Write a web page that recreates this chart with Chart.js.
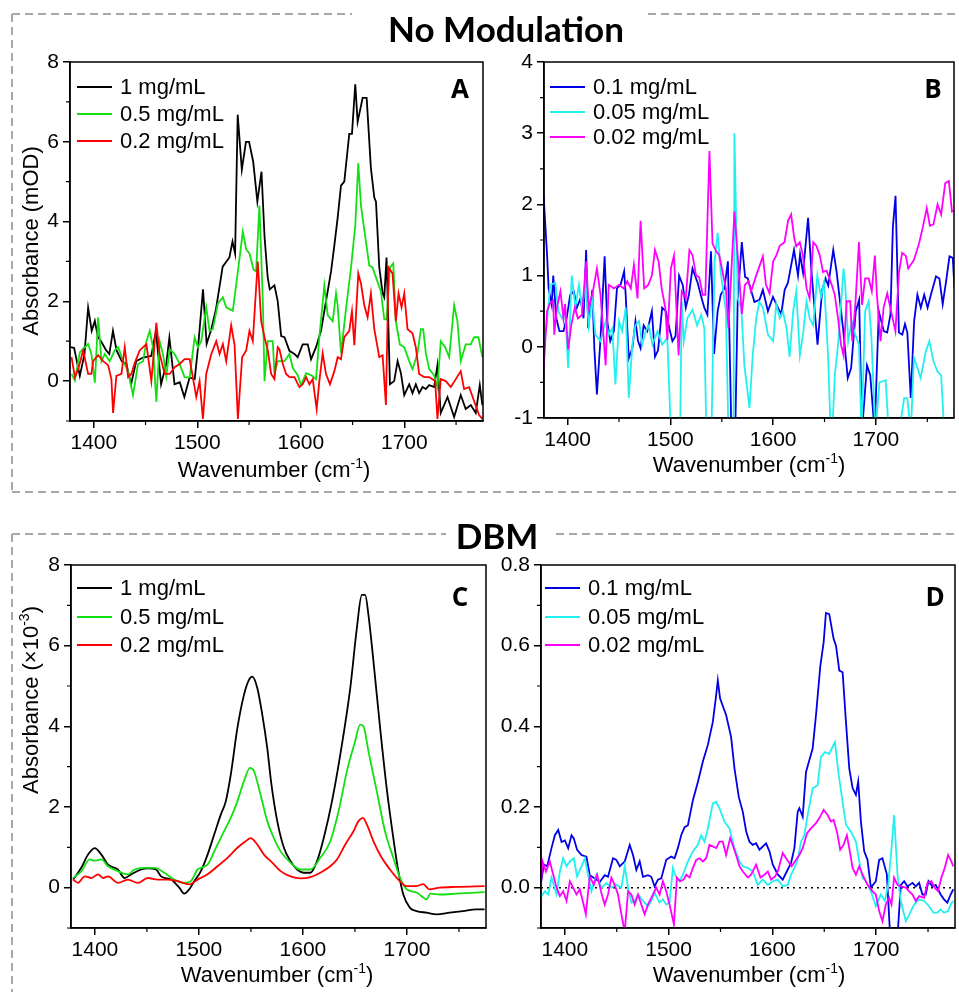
<!DOCTYPE html>
<html><head><meta charset="utf-8">
<script src="https://cdn.jsdelivr.net/npm/chart.js@4/dist/chart.umd.min.js"></script>
<style>
body{margin:0;background:#fff;}
#page{position:relative;width:959px;height:992px;overflow:hidden;background:#fff;font-family:'Liberation Sans',Arial,sans-serif;color:#000;}
canvas{position:absolute;}
.t{position:absolute;white-space:nowrap;transform:translate(-50%,-50%);line-height:1;}
.ttl{font-family:Lato,'Open Sans',sans-serif;font-weight:700;font-size:35px;}
.let{font-family:'Open Sans',sans-serif;font-weight:700;font-size:26px;}
.ax{font-size:22px;}
.ax sup{font-size:14px;vertical-align:top;position:relative;top:-3px;}
.rot{transform:translate(-50%,-50%) rotate(-90deg);}
.lg{position:absolute;transform:translateY(-50%);font-size:22px;line-height:24px;white-space:nowrap;display:flex;align-items:center;}
.sw{display:inline-block;width:35px;height:2px;margin-right:8px;}
</style></head><body><div id="page">
<svg width="959" height="992" style="position:absolute;left:0;top:0" stroke="#a8a8a8" stroke-width="2" stroke-dasharray="8 5" fill="none">
<line x1="12" y1="14" x2="352" y2="14"/><line x1="648" y1="14" x2="959" y2="14"/>
<line x1="12" y1="14" x2="12" y2="492"/><line x1="12" y1="492" x2="959" y2="492"/>
<line x1="12" y1="534" x2="446" y2="534"/><line x1="556" y1="534" x2="959" y2="534"/>
<line x1="12" y1="534" x2="12" y2="992"/>
</svg>
<canvas id="cA" width="480" height="435" style="left:20px;top:45px"></canvas>
<canvas id="cB" width="459" height="435" style="left:500px;top:45px"></canvas>
<canvas id="cC" width="480" height="432" style="left:20px;top:548px"></canvas>
<canvas id="cD" width="459" height="432" style="left:500px;top:548px"></canvas>
<div class="t ttl" style="left:506px;top:28px">No Modulation</div>
<div class="t ttl" style="left:497px;top:535px">DBM</div>
<div class="t let" style="left:460px;top:88px">A</div>
<div class="t let" style="left:933px;top:88px">B</div>
<div class="t let" style="left:460px;top:596px">C</div>
<div class="t let" style="left:935px;top:596px">D</div>
<div class="t ax rot" style="left:31px;top:241px">Absorbance (mOD)</div>
<div class="t ax rot" style="left:31px;top:700px">Absorbance (×10<sup>-3</sup>)</div>
<div class="t ax" style="left:274px;top:470px">Wavenumber (cm<sup>-1</sup>)</div>
<div class="t ax" style="left:749px;top:465px">Wavenumber (cm<sup>-1</sup>)</div>
<div class="t ax" style="left:277px;top:975px">Wavenumber (cm<sup>-1</sup>)</div>
<div class="t ax" style="left:749px;top:975px">Wavenumber (cm<sup>-1</sup>)</div>
</div>
<script>
// ---------- DATA: [wavenumber (cm-1), absorbance] ----------
const xTicksMajor = [1400, 1500, 1600, 1700];
const xTicksMinor = [1450, 1550, 1650, 1750];

// Panel A (No Modulation, mOD)
const a_1 = [[1378,0.85],[1381,0.83],[1386.5,0.13],[1391,0.68],[1394.5,1.84],[1398,1.26],[1401,1.51],[1404,1.1],[1407,1.0],[1412,0.77],[1415,0.68],[1418.5,1.26],[1422,0.77],[1427,0.5],[1431.5,0.43],[1436,-0.08],[1441,0.5],[1447.5,0.59],[1455.5,0.63],[1460,1.26],[1465,-0.08],[1470,0.43],[1473,1.09],[1478,-0.08],[1483,-0.03],[1487.5,-0.4],[1492.5,0.09],[1497.5,0.05],[1501,0.93],[1505.5,2.3],[1509,0.93],[1513.5,1.3],[1518,1.8],[1524.5,2.87],[1531,3.1],[1534,3.5],[1536.5,3.2],[1539,6.68],[1543,5.3],[1547,6.0],[1550,6.0],[1554,5.5],[1558,4.5],[1562,5.25],[1565,3.6],[1568,2.6],[1570,2.3],[1574.5,2.4],[1577.7,2.0],[1581,1.13],[1584.2,1.1],[1589,0.76],[1593.8,0.68],[1597,0.6],[1601.8,0.92],[1606.7,0.92],[1609.9,0.55],[1614.7,0.85],[1619.5,1.26],[1624.3,2.0],[1629.2,2.75],[1632.4,3.4],[1635.6,4.1],[1638.8,4.9],[1642,5.0],[1646.8,6.2],[1649.4,6.2],[1652.6,7.44],[1654.9,6.5],[1659.7,7.1],[1663.6,7.1],[1667.7,5.34],[1671,4.6],[1672.6,4.5],[1675.8,2.85],[1679,2.2],[1680.6,2.1],[1682.8,3.1],[1684.8,1.2],[1686.1,-0.08],[1690.2,0.0],[1693.5,0.5],[1696.7,0.2],[1699.9,-0.35],[1704.7,-0.08],[1707.9,-0.3],[1711.1,-0.08],[1714.3,-0.3],[1717.6,-0.15],[1720.8,-0.2],[1724,-0.1],[1728.8,-0.15],[1732,0.4],[1735.2,-0.8],[1741.7,-0.4],[1748.1,-0.9],[1754.5,-0.35],[1759.3,-0.7],[1764.2,-0.6],[1769,-0.8],[1772.9,-0.1],[1775.4,-0.6]];
const a_05 = [[1378.5,0.18],[1381.7,0.01],[1386.5,0.72],[1394.5,0.93],[1397.7,0.68],[1401,-0.04],[1404.2,1.6],[1407.4,0.5],[1410.6,0.68],[1415.4,0.5],[1420.2,0.77],[1423.5,0.85],[1428.3,0.5],[1433.1,0.25],[1437.9,-0.35],[1442.7,0.43],[1447.6,0.5],[1450.8,1.0],[1454,1.26],[1457.2,0.85],[1460.4,-0.52],[1463.6,1.0],[1466.8,0.68],[1470,0.13],[1473.3,0.8],[1478.1,0.68],[1482.9,0.43],[1487.7,0.1],[1492.6,0.09],[1497.4,1.1],[1500.6,0.85],[1503.8,1.0],[1508.6,1.85],[1511.8,1.26],[1515,1.3],[1519.9,1.95],[1524.7,2.1],[1527.9,1.85],[1534.3,1.76],[1539.2,2.75],[1544,3.75],[1547.2,3.3],[1550.4,3.2],[1554.3,2.8],[1556.8,2.75],[1560,4.4],[1563.3,2.0],[1564.9,0.0],[1568.1,1.0],[1572.9,1.0],[1574.5,0.2],[1577.7,0.5],[1584.2,0.5],[1589,0.68],[1592.2,0.33],[1597,0.15],[1600.2,-0.1],[1605.1,0.2],[1609.9,0.15],[1614.7,0.05],[1617.9,1.1],[1622.7,2.4],[1626,1.65],[1630.8,1.5],[1634,2.2],[1635.6,1.9],[1638.8,0.7],[1643.6,1.8],[1648.5,2.85],[1652.6,3.9],[1655.5,5.46],[1658.1,4.4],[1661.3,3.8],[1666.1,2.9],[1669.3,2.85],[1672.6,2.6],[1677.4,2.25],[1680.6,1.55],[1682.8,1.55],[1686.1,2.85],[1689.3,2.95],[1691.8,1.5],[1695.7,0.92],[1699.9,0.85],[1704.7,0.5],[1707.9,0.3],[1712.7,0.7],[1716,1.3],[1718.2,1.3],[1720.8,0.7],[1724,0.3],[1728.8,0.15],[1732,-0.15],[1735.2,1.0],[1739.4,0.85],[1743.3,0.6],[1748.1,1.9],[1751.3,1.5],[1754.5,0.5],[1759.3,0.92],[1764.2,0.92],[1767.4,1.1],[1771.6,1.1],[1775.4,0.6]];
const a_02 = [[1378.5,0.6],[1381.7,0.1],[1384.9,0.3],[1389.7,0.77],[1394.5,0.18],[1397.7,0.18],[1399.3,0.5],[1404.2,0.65],[1409,0.5],[1413.8,0.4],[1417,0.05],[1418.6,-0.8],[1421.8,0.13],[1426.7,0.18],[1429.9,0.85],[1433.1,0.1],[1436.3,0.18],[1439.5,0.45],[1444.3,0.77],[1450.8,0.93],[1455.6,0.0],[1460.4,1.46],[1463.6,0.68],[1468.5,0.18],[1473.3,0.18],[1478.1,0.35],[1482.9,0.43],[1487.7,0.55],[1492.6,0.55],[1499,-0.4],[1502.2,0.0],[1505.4,-0.95],[1508.6,0.18],[1513.5,0.68],[1518.3,1.0],[1521.5,0.68],[1524.7,0.93],[1527.9,0.5],[1532.7,1.4],[1536,0.9],[1539.2,-0.95],[1543.3,0.6],[1547.2,0.77],[1550.4,1.26],[1553.6,1.0],[1558.4,3.0],[1561.7,1.5],[1564.9,1.1],[1568.1,0.77],[1571.3,0.18],[1574.5,0.05],[1577.7,0.85],[1579.3,0.8],[1582.6,0.43],[1585.8,0.18],[1589,0.1],[1593.8,0.1],[1598.6,-0.15],[1601.8,-0.08],[1605.1,0.1],[1608.3,-0.08],[1611.5,0.05],[1615.3,-0.7],[1617.9,0.0],[1621.1,0.7],[1624.3,0.18],[1628.2,-0.08],[1632.4,0.25],[1635.6,0.6],[1638.8,0.55],[1642,1.1],[1646.8,1.26],[1649.4,1.75],[1651.7,0.9],[1655.5,2.7],[1658.1,2.45],[1661.3,1.9],[1664.5,1.6],[1667.7,2.2],[1671,1.3],[1675.8,0.6],[1679,0.65],[1682.2,-0.6],[1684.8,2.85],[1688.6,2.7],[1691.8,1.5],[1694.4,2.2],[1697.3,1.85],[1699.9,2.2],[1703.1,1.3],[1707.9,1.2],[1711.1,0.85],[1714.3,0.18],[1719.2,0.1],[1724,0.1],[1729.8,0.0],[1732,-0.95],[1735.2,0.05],[1740,0.0],[1744.9,-0.15],[1749.7,0.05],[1754.5,0.25],[1757.7,-0.2],[1762.6,-0.15],[1767.4,-0.5],[1772.2,-0.85],[1775.4,-0.95]];

// Panel B (No Modulation, mOD)
const b_01 = [[1376.5,2.15],[1380,1.29],[1381.5,0.82],[1384.5,0.59],[1386,1.0],[1389,0.4],[1392,0.22],[1396,0.22],[1399,0.4],[1402.5,0.73],[1406,0.78],[1409,0.55],[1412.5,0.68],[1415.5,0.4],[1418,1.36],[1420,0.26],[1424,0.8],[1426,-0.02],[1428.5,-0.67],[1432,0.12],[1436,1.27],[1438.5,0.36],[1441.5,0.08],[1445,0.22],[1448,0.82],[1451.5,0.87],[1455,1.06],[1456.5,0.73],[1459.5,-0.16],[1463,-0.02],[1466,0.36],[1468.5,0.08],[1471,-0.02],[1474,0.3],[1477.5,0.22],[1482,0.5],[1485,-0.14],[1488,-0.05],[1492,0.55],[1495.5,0.5],[1499,0.26],[1502,0.08],[1505,0.15],[1508.5,1.0],[1512,0.87],[1515,0.55],[1518,0.73],[1521.5,1.1],[1526.5,0.9],[1529.5,0.73],[1533,0.55],[1536,0.45],[1539.5,1.34],[1542.5,-0.1],[1546,0.5],[1549,0.73],[1552.5,0.82],[1556,1.2],[1559.5,-1.3],[1563,-1.3],[1565.5,0.66],[1569.5,1.47],[1572.7,0.98],[1575.3,0.96],[1578,0.82],[1581.8,0.63],[1586.7,0.66],[1590,0.8],[1594.9,0.5],[1599.8,0.7],[1604.6,0.55],[1607.9,0.46],[1611.2,0.8],[1614.4,0.9],[1620.3,1.36],[1624.2,1.0],[1626.2,1.3],[1629.1,1.04],[1634,1.81],[1637.3,1.06],[1640.5,0.5],[1643.2,0.03],[1647.7,0.8],[1651,0.96],[1653.6,0.86],[1658.5,1.36],[1661.8,1.05],[1665.1,0.63],[1668.3,0.22],[1672.6,-0.44],[1675.9,-0.3],[1680.4,0.5],[1683.7,0.66],[1686.4,-1.2],[1691.3,-0.26],[1694.5,-0.4],[1698.8,-1.2],[1702.8,0.5],[1707.7,0.22],[1711,0.2],[1714.2,0.46],[1716.5,1.68],[1719.1,2.12],[1722.4,0.2],[1725.7,0.17],[1728.3,0.32],[1730.6,0.2],[1733.9,-0.72],[1737.2,0.36],[1740.4,0.73],[1743.7,0.55],[1747,0.73],[1750.3,0.55],[1753.5,0.73],[1758.5,0.99],[1761.8,0.96],[1765,0.6],[1768.3,0.92],[1771.6,1.27],[1774.8,1.25],[1776.5,0.82]];
const b_005 = [[1376.5,-0.02],[1380,0.36],[1383,0.87],[1388,0.9],[1391,0.5],[1394.5,0.4],[1397.5,0.55],[1400.5,-0.3],[1404,1.0],[1407.5,0.55],[1411,0.87],[1414,0.55],[1417.5,0.9],[1420.5,0.3],[1424,0.68],[1427,0.17],[1432,0.08],[1437,0.36],[1440,0.17],[1443.5,0.26],[1446.5,-0.53],[1450,0.36],[1453,0.22],[1456.5,0.55],[1459.5,-0.72],[1463,0.03],[1466,0.3],[1469.5,0.36],[1472.5,0.03],[1476,0.22],[1479,0.3],[1482.5,0.03],[1487.5,0.22],[1492,0.03],[1497,0.12],[1500.5,-1.2],[1509.5,-1.2],[1511,0.64],[1513,0.08],[1516.5,0.4],[1521.5,0.52],[1526,0.3],[1530,0.45],[1533,0.26],[1535,-1.2],[1540,-1.2],[1543,1.2],[1546,1.6],[1549,1.05],[1554,0.5],[1556.5,-1.2],[1561.5,-1.2],[1562.3,3.0],[1565.5,0.68],[1569,0.55],[1572,-0.26],[1577,-0.86],[1580,-0.14],[1583.5,0.4],[1586.5,0.63],[1590,0.55],[1595,0.17],[1600,0.08],[1603,0.6],[1606.5,0.4],[1609.5,0.5],[1613,0.26],[1616,-0.14],[1619.5,0.5],[1622.5,0.78],[1626,-0.12],[1629,0.17],[1632.5,0.64],[1635.5,0.4],[1639,0.3],[1643,1.0],[1646.5,0.7],[1649.5,0.9],[1653.5,-0.14],[1656,-1.2],[1657.5,-1.2],[1660,-0.4],[1663.5,0.08],[1668.5,1.1],[1670,0.9],[1673,0.08],[1676.5,0.36],[1680,0.17],[1683.5,0.03],[1686,-1.2],[1689.5,0.5],[1693,0.64],[1695.5,0.17],[1699.5,-1.2],[1703.5,-0.5],[1709.5,-0.47],[1712.5,-1.2],[1722.5,-1.2],[1727.5,-0.72],[1730.5,-0.72],[1734,-1.2],[1737,-0.15],[1740.5,-0.3],[1743.5,-0.44],[1748.5,-0.07],[1752,0.08],[1756,-0.2],[1760,-0.35],[1763.5,-0.4],[1766.5,-1.2],[1775,-1.2],[1776.5,-0.86]];
const b_002 = [[1376.5,-0.35],[1380,0.5],[1383,0.62],[1386,0.65],[1387,0.17],[1389.5,0.55],[1393,0.78],[1396,0.4],[1397.5,0.6],[1400.5,-0.04],[1403.5,0.3],[1407,0.55],[1410,0.4],[1414,0.45],[1418,1.2],[1420.5,0.55],[1424,0.73],[1428.5,1.1],[1432,0.73],[1437,-0.26],[1440,0.87],[1445,0.82],[1450,0.87],[1454.5,0.82],[1458,0.92],[1461.5,0.82],[1464.5,1.15],[1468,0.68],[1471,1.77],[1474.5,0.82],[1478.5,0.87],[1482,1.0],[1485,1.36],[1488.5,1.2],[1491.5,0.82],[1495,0.55],[1497,0.1],[1500.5,1.1],[1503.5,1.28],[1508,-0.12],[1511,0.78],[1515,0.68],[1518.5,1.36],[1521.5,1.29],[1525,1.0],[1528,0.98],[1531.5,0.73],[1534,0.73],[1538,2.75],[1541,1.45],[1545,1.33],[1547.5,1.29],[1551.5,1.0],[1554,0.82],[1556.5,0.26],[1562.3,1.9],[1565.5,1.28],[1569.5,0.46],[1572.5,0.87],[1576,0.92],[1578.5,0.78],[1583.5,1.0],[1590,1.27],[1593,0.87],[1596.5,0.75],[1600,1.2],[1603,1.28],[1606.5,1.42],[1611,1.47],[1614.5,1.77],[1617.5,1.86],[1620.5,1.53],[1622.5,1.41],[1626,1.47],[1629,1.28],[1632.5,0.82],[1635.5,0.68],[1639,1.47],[1642,1.42],[1645.5,1.28],[1648.5,1.05],[1652,1.07],[1657,0.87],[1660,0.73],[1663.5,0.36],[1666,0.03],[1668.5,-0.12],[1671.5,0.64],[1675,0.64],[1677,0.08],[1680,0.59],[1683.5,1.47],[1686.5,0.59],[1689.5,0.96],[1693,0.96],[1696,0.78],[1699,1.28],[1701,0.73],[1704.5,0.08],[1707.5,0.55],[1711,0.75],[1714,0.55],[1719,0.22],[1722.5,1.05],[1725.5,1.32],[1729,1.28],[1731.5,1.1],[1737,1.22],[1742,1.45],[1745.5,1.67],[1749.5,1.95],[1752.5,1.7],[1756,1.72],[1760,2.0],[1763.5,1.86],[1767.5,2.3],[1771,2.33],[1774,1.9],[1776.5,1.92]];

// Panel C (DBM, x10^-3)
const c_1 = [[1379,0.2],[1387,0.5],[1393.4,0.82],[1399.8,0.98],[1406.2,0.82],[1412.6,0.57],[1422.1,0.45],[1428.5,0.24],[1434.9,0.33],[1444.5,0.45],[1450.8,0.48],[1458.8,0.45],[1463.6,0.28],[1473.2,0.2],[1481.1,0.0],[1485.9,-0.15],[1490.7,-0.04],[1495.5,0.16],[1501.9,0.41],[1508.3,0.82],[1514.6,1.31],[1521,1.81],[1525.8,2.14],[1530.6,2.8],[1537,3.96],[1543.3,4.78],[1548.1,5.15],[1551.3,5.23],[1556.1,4.95],[1560.9,4.29],[1565.7,3.46],[1569.5,2.6],[1575.3,1.65],[1581.7,0.99],[1588,0.66],[1594.4,0.45],[1600.8,0.37],[1607.2,0.37],[1613.6,0.66],[1620,1.23],[1627.9,2.14],[1635.9,3.3],[1645.5,4.95],[1651.8,6.43],[1656.6,7.26],[1659.8,7.26],[1663,6.76],[1667.8,5.61],[1674.2,3.96],[1680.5,2.47],[1686.9,1.23],[1691.7,0.41],[1696.5,-0.17],[1702.9,-0.5],[1709.3,-0.58],[1718.8,-0.62],[1728.4,-0.66],[1741.1,-0.62],[1753.9,-0.58],[1766.7,-0.54],[1774.6,-0.54]];
const c_05 = [[1379,0.24],[1387,0.41],[1395,0.7],[1399.8,0.67],[1406.2,0.7],[1412.6,0.53],[1422.1,0.41],[1431.7,0.33],[1438.1,0.45],[1447.6,0.49],[1457.2,0.49],[1466.8,0.37],[1476.3,0.2],[1485.9,0.12],[1492.3,0.16],[1498.7,0.45],[1508.3,0.57],[1516.2,0.98],[1524.2,1.4],[1530.6,1.73],[1537,2.14],[1543.3,2.64],[1549.1,2.97],[1552.9,2.89],[1559.3,2.3],[1565.7,1.65],[1572,1.23],[1578.5,0.9],[1588,0.62],[1597.6,0.45],[1607.2,0.45],[1616.7,0.74],[1626.3,1.15],[1634.3,1.9],[1642.3,2.89],[1650.2,3.63],[1655,4.04],[1658.2,4.0],[1663,3.38],[1671,2.39],[1678.9,1.4],[1686.9,0.74],[1693.3,0.25],[1699.7,-0.04],[1709.3,-0.12],[1714,-0.21],[1718.8,-0.29],[1722.6,-0.15],[1731.6,-0.17],[1747.5,-0.15],[1774.6,-0.11]];
const c_02 = [[1379,0.2],[1383.8,0.12],[1390.2,0.28],[1396.6,0.24],[1403,0.33],[1407.8,0.24],[1412.6,0.28],[1422.1,0.12],[1431.7,0.2],[1441.3,0.12],[1450.8,0.24],[1460.4,0.2],[1470,0.2],[1479.5,0.16],[1490.7,0.08],[1498.7,0.2],[1508.3,0.33],[1517.8,0.53],[1527.4,0.74],[1537,0.99],[1544.9,1.15],[1549.7,1.23],[1556.1,1.07],[1562.5,0.82],[1570.5,0.62],[1578.5,0.41],[1588,0.28],[1597.6,0.23],[1607.2,0.26],[1616.7,0.37],[1626.3,0.53],[1632.7,0.7],[1640.7,1.07],[1648.6,1.4],[1653.4,1.65],[1657.6,1.73],[1661.4,1.57],[1667.8,1.15],[1675.8,0.74],[1683.7,0.45],[1691.7,0.2],[1699.7,0.04],[1709.3,0.04],[1715.6,0.09],[1721.4,-0.04],[1731.6,0.0],[1747.5,0.02],[1774.6,0.04]];

// Panel D (DBM, x10^-3)
const d_01 = [[1376.6,0.007],[1379.8,0.057],[1383,0.053],[1387.1,0.098],[1390.4,0.13],[1393.6,0.143],[1396.8,0.113],[1400,0.117],[1403.2,0.098],[1406.4,0.13],[1408.6,0.122],[1411.8,0.094],[1416,0.081],[1420.8,0.077],[1424,0.031],[1428.8,0.023],[1433.6,0.014],[1438.4,0.031],[1441.6,0.027],[1446.4,0.073],[1449.6,0.069],[1452.9,0.053],[1457.7,0.065],[1462.5,0.106],[1465.7,0.081],[1468.9,0.044],[1472.1,0.065],[1475.3,0.027],[1480.1,0.031],[1483.3,0.027],[1486.5,0.003],[1489.7,0.02],[1492.9,0.023],[1497.7,0.069],[1502.5,0.077],[1505.7,0.073],[1508.9,0.098],[1512.1,0.13],[1515.4,0.15],[1518.6,0.155],[1523.4,0.217],[1528.2,0.262],[1533,0.313],[1537.8,0.354],[1542.6,0.411],[1545.8,0.477],[1547.4,0.514],[1549.6,0.469],[1555.4,0.428],[1560.2,0.374],[1563.5,0.295],[1567.6,0.225],[1571.5,0.188],[1574.7,0.14],[1577.9,0.114],[1581.1,0.106],[1584.3,0.11],[1587.5,0.094],[1590.7,0.102],[1593.9,0.11],[1597.2,0.09],[1600.4,0.057],[1605.2,0.033],[1610,0.02],[1614.8,0.045],[1618,0.061],[1621.2,0.098],[1624.4,0.188],[1626,0.197],[1629.2,0.176],[1632.4,0.287],[1635.6,0.316],[1638.8,0.345],[1642,0.427],[1646.2,0.55],[1649.4,0.608],[1651.6,0.681],[1654.8,0.678],[1659,0.617],[1661.3,0.6],[1664.5,0.538],[1667.7,0.534],[1670.9,0.411],[1674.1,0.296],[1677.3,0.247],[1680.5,0.23],[1682.7,0.263],[1685.3,0.164],[1688.5,0.09],[1691.7,0.069],[1694.9,0.0],[1699.7,0.016],[1702.9,0.069],[1706.1,0.073],[1710.3,0.033],[1713.5,-0.12],[1720.6,-0.12],[1723.8,0.007],[1727,0.016],[1730.2,0.003],[1735,0.012],[1738.2,0.003],[1741.4,0.012],[1744.6,-0.017],[1747.8,-0.017],[1750.4,0.016],[1754.2,0.003],[1757.4,0.007],[1762.2,-0.017],[1765.4,-0.029],[1768.6,-0.037],[1771.8,-0.017],[1774.4,-0.004]];
const d_005 = [[1376.6,-0.025],[1380.7,-0.009],[1384,-0.017],[1387.1,0.025],[1392,-0.017],[1395.2,0.04],[1398.4,0.073],[1401.6,0.053],[1404.8,0.065],[1408.6,0.073],[1411.8,0.028],[1416,0.053],[1419.2,0.073],[1422.4,0.032],[1425.6,-0.009],[1430.4,0.032],[1435.2,0.0],[1440,0.011],[1444.8,0.0],[1449.6,0.007],[1454.5,0.0],[1457.7,0.053],[1460.9,0.0],[1464.1,-0.037],[1467.3,-0.033],[1470.5,-0.017],[1475.3,-0.033],[1480.1,-0.046],[1483.3,-0.033],[1486.5,-0.013],[1491.3,-0.037],[1494.5,-0.029],[1497.7,-0.042],[1500.9,-0.037],[1504.1,0.049],[1507.3,0.025],[1510.5,0.016],[1513.7,0.032],[1518.6,0.065],[1523.4,0.09],[1528.2,0.106],[1531.4,0.13],[1534.6,0.114],[1537.8,0.147],[1542.6,0.209],[1545.8,0.213],[1549,0.197],[1553.8,0.164],[1558.6,0.147],[1563.4,0.098],[1568.3,0.065],[1571.5,0.053],[1576.3,0.049],[1581.1,0.04],[1585.9,0.007],[1590.7,0.02],[1595.6,0.007],[1600.4,0.016],[1605.2,0.02],[1610,0.003],[1614.8,0.007],[1618,0.032],[1621.2,0.049],[1624.4,0.069],[1627.6,0.114],[1630.8,0.13],[1634,0.18],[1638.8,0.246],[1643.6,0.254],[1646.8,0.324],[1650.7,0.336],[1654.8,0.332],[1658,0.349],[1660.3,0.361],[1663.5,0.287],[1666.7,0.23],[1670.9,0.156],[1675.7,0.139],[1680.5,0.114],[1683.7,0.065],[1686.9,0.024],[1690.1,0.016],[1694.9,-0.009],[1699.7,-0.046],[1704.5,-0.017],[1708.4,-0.033],[1711.6,0.007],[1714.8,0.098],[1717.3,0.18],[1720.6,0.032],[1723.8,-0.033],[1728.6,-0.083],[1731.8,-0.067],[1736.6,-0.042],[1741.4,-0.029],[1746.2,-0.033],[1751,-0.046],[1755.2,-0.062],[1759,-0.062],[1762.2,-0.054],[1765.4,-0.062],[1769.3,-0.058],[1771.8,-0.042],[1774.4,-0.033]];
const d_002 = [[1376.6,-0.009],[1378.5,0.065],[1381.7,0.04],[1385.5,0.065],[1388.8,0.032],[1392,0.0],[1395.2,-0.021],[1398.4,-0.009],[1401.6,-0.033],[1404.8,0.016],[1408,0.0],[1411.2,-0.017],[1414.4,-0.004],[1417.6,-0.037],[1420.2,-0.066],[1424,0.028],[1427.9,0.007],[1431.1,0.032],[1435.2,-0.013],[1438.4,-0.042],[1441.6,-0.017],[1444.8,0.025],[1448,0.007],[1451.2,-0.017],[1454.5,-0.066],[1457.7,-0.11],[1460.9,-0.009],[1464.1,-0.017],[1467.3,-0.042],[1470.5,-0.017],[1473.7,-0.042],[1476.9,-0.066],[1480.1,-0.042],[1484.9,-0.017],[1488.1,0.0],[1491.3,-0.017],[1494.5,0.016],[1497.7,-0.009],[1500.9,-0.042],[1505.1,-0.091],[1508,0.025],[1511.2,0.016],[1514.4,0.02],[1517,0.032],[1520.2,0.025],[1523.4,0.049],[1526.6,0.069],[1529.8,0.073],[1533,0.065],[1536.2,0.073],[1539.4,0.106],[1542.6,0.102],[1545.8,0.098],[1549,0.114],[1552.2,0.114],[1555.4,0.081],[1559.3,0.123],[1561.8,0.106],[1565,0.081],[1568.3,0.053],[1571.5,0.04],[1576.3,0.025],[1579.5,0.032],[1584.3,0.057],[1588.5,0.025],[1592.3,0.032],[1595.6,0.04],[1598.8,0.02],[1602.6,0.028],[1605.2,0.04],[1610,0.086],[1614.1,0.069],[1618.6,0.053],[1622.8,0.069],[1626,0.081],[1629.2,0.098],[1633.4,0.135],[1637.2,0.147],[1642,0.16],[1645.2,0.172],[1649.4,0.193],[1653.2,0.18],[1656.4,0.164],[1659,0.168],[1662.2,0.139],[1665.4,0.094],[1668.6,0.106],[1671.8,0.13],[1674.1,0.098],[1677.3,0.049],[1680.5,0.032],[1683.7,0.053],[1686.9,0.032],[1691.7,0.007],[1696.5,-0.009],[1699.7,-0.017],[1702.9,-0.058],[1706.1,-0.083],[1709.3,-0.042],[1712.5,-0.025],[1714.8,-0.042],[1717.3,0.025],[1720.6,0.007],[1723.8,0.003],[1728.6,0.0],[1731.8,-0.009],[1735,-0.017],[1738.2,-0.033],[1741.4,-0.021],[1746.2,-0.025],[1749.4,0.012],[1753.2,0.016],[1756.4,0.0],[1759.7,-0.009],[1762.9,0.025],[1766.1,0.049],[1769.3,0.081],[1771.8,0.069],[1774.4,0.053]];

// ---------- CHART SETUP ----------
const page = document.getElementById('page');
const FONT = "'Liberation Sans', Arial, sans-serif";

const decor = {
  id: 'decor',
  beforeDatasetsDraw(chart, args, o) {
    if (!o.zeroLine) return;
    const {ctx, chartArea: a, scales: {y}} = chart;
    ctx.save();
    ctx.strokeStyle = '#000'; ctx.lineWidth = 1.5; ctx.setLineDash([2, 4]);
    const py = y.getPixelForValue(0);
    ctx.beginPath(); ctx.moveTo(a.left, py); ctx.lineTo(a.right, py); ctx.stroke();
    ctx.restore();
  },
  afterDraw(chart, args, o) {
    const {ctx, chartArea: a, scales: {x, y}} = chart;
    ctx.save();
    ctx.strokeStyle = '#000'; ctx.lineWidth = 1.5;
    ctx.strokeRect(a.left, a.top, a.right - a.left, a.bottom - a.top);
    ctx.lineWidth = 1.2;
    ctx.beginPath();
    (o.xMinor || []).forEach(v => { const px = x.getPixelForValue(v); ctx.moveTo(px, a.bottom); ctx.lineTo(px, a.bottom + 4); });
    (o.yMinor || []).forEach(v => { const py = y.getPixelForValue(v); ctx.moveTo(a.left, py); ctx.lineTo(a.left - 4, py); });
    ctx.stroke();
    ctx.restore();
  }
};

function makePanel(p) {
  const n = p.series.length;
  const chart = new Chart(document.getElementById(p.id), {
    type: 'line',
    data: {
      datasets: p.series.map((s, i) => ({
        label: s.label,
        data: s.data.map(([x, y]) => ({x, y})),
        borderColor: s.color, backgroundColor: s.color,
        borderWidth: 1.8, pointRadius: 0, fill: false,
        tension: 0, cubicInterpolationMode: p.smooth ? 'monotone' : 'default',
        order: n - 1 - i
      }))
    },
    plugins: [decor],
    options: {
      responsive: false, animation: false, devicePixelRatio: 1,
      layout: {padding: {top: p.pad.top, right: p.pad.right, left: 0, bottom: 0}},
      plugins: {legend: {display: false}, tooltip: {enabled: false},
        decor: {xMinor: xTicksMinor, yMinor: p.yMinor, zeroLine: !!p.zeroLine}},
      scales: {
        x: {
          type: 'linear', min: 1377, max: 1776,
          afterBuildTicks: s => { s.ticks = xTicksMajor.map(v => ({value: v})); },
          afterFit: s => { s.height = p.xH; },
          ticks: {font: {family: FONT, size: 21}, color: '#000', padding: 3, maxRotation: 0, autoSkip: false,
            callback: v => String(v)},
          grid: {display: true, drawOnChartArea: false, drawTicks: true, tickLength: 7, color: '#000', lineWidth: 1.5},
          border: {display: true, color: '#000', width: 1.5}
        },
        y: {
          type: 'linear', min: p.yMin, max: p.yMax,
          afterBuildTicks: s => { s.ticks = p.yMajor.map(v => ({value: v})); },
          afterFit: s => { s.width = p.yW; },
          ticks: {font: {family: FONT, size: 21}, color: '#000', padding: 4, autoSkip: false,
            callback: v => p.yFmt(v)},
          grid: {display: true, drawOnChartArea: false, drawTicks: true, tickLength: 7, color: '#000', lineWidth: 1.5},
          border: {display: true, color: '#000', width: 1.5}
        }
      }
    }
  });
  // HTML legend inside the plot area
  const a = chart.chartArea;
  const ox = parseFloat(chart.canvas.style.left), oy = parseFloat(chart.canvas.style.top);
  p.series.forEach((s, i) => {
    const d = document.createElement('div');
    d.className = 'lg';
    d.style.left = (ox + a.left + p.leg.dx) + 'px';
    d.style.top = (oy + a.top + p.leg.dy + i * p.leg.gap) + 'px';
    d.innerHTML = '<span class="sw" style="background:' + s.color + '"></span>' + s.label;
    page.appendChild(d);
  });
  return chart;
}

const intFmt = v => String(Math.round(v));
const decFmt = v => v.toFixed(1);

makePanel({id: 'cA', yW: 50, xH: 59, pad: {top: 17, right: 17},
  yMin: -1, yMax: 8, yMajor: [0, 2, 4, 6, 8], yMinor: [-1, 1, 3, 5, 7], yFmt: intFmt,
  leg: {dx: 7, dy: 25, gap: 27},
  series: [{label: '1 mg/mL', data: a_1, color: '#000000'},
           {label: '0.5 mg/mL', data: a_05, color: '#12e012'},
           {label: '0.2 mg/mL', data: a_02, color: '#ff0000'}]});
makePanel({id: 'cB', yW: 44, xH: 62, pad: {top: 17, right: 5},
  yMin: -1, yMax: 4, yMajor: [-1, 0, 1, 2, 3, 4], yMinor: [-0.5, 0.5, 1.5, 2.5, 3.5], yFmt: intFmt,
  leg: {dx: 6, dy: 25, gap: 25},
  series: [{label: '0.1 mg/mL', data: b_01, color: '#0000e6'},
           {label: '0.05 mg/mL', data: b_005, color: '#22f0f0'},
           {label: '0.02 mg/mL', data: b_002, color: '#ff00ff'}]});
makePanel({id: 'cC', yW: 51, xH: 52, pad: {top: 17, right: 14}, smooth: true,
  yMin: -1, yMax: 8, yMajor: [0, 2, 4, 6, 8], yMinor: [-1, 1, 3, 5, 7], yFmt: intFmt,
  leg: {dx: 6, dy: 23, gap: 28.5},
  series: [{label: '1 mg/mL', data: c_1, color: '#000000'},
           {label: '0.5 mg/mL', data: c_05, color: '#12e012'},
           {label: '0.2 mg/mL', data: c_02, color: '#ff0000'}]});
makePanel({id: 'cD', yW: 41, xH: 52, pad: {top: 17, right: 4}, zeroLine: true,
  yMin: -0.1, yMax: 0.8, yMajor: [0, 0.2, 0.4, 0.6, 0.8], yMinor: [-0.1, 0.1, 0.3, 0.5, 0.7], yFmt: decFmt,
  leg: {dx: 4, dy: 23, gap: 28.5},
  series: [{label: '0.1 mg/mL', data: d_01, color: '#0000e6'},
           {label: '0.05 mg/mL', data: d_005, color: '#22f0f0'},
           {label: '0.02 mg/mL', data: d_002, color: '#ff00ff'}]});
</script>
</body></html>
